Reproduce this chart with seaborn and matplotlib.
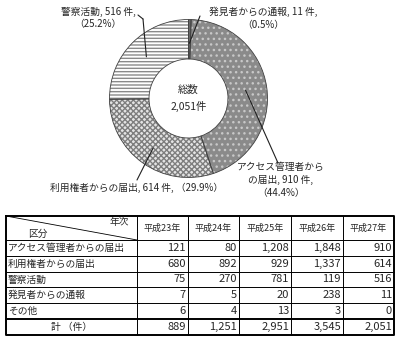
import matplotlib
matplotlib.use("Agg")
import matplotlib.pyplot as plt
import seaborn as sns
import numpy as np

sns.set_theme(style="white")
plt.rcParams['font.family'] = ['Noto Sans CJK JP', 'DejaVu Sans']
plt.rcParams['hatch.linewidth'] = 1.0

# ---- data ----
pie_labels = ["発見者からの通報", "アクセス管理者からの届出", "利用権者からの届出", "警察活動"]
pie_values = [11, 910, 614, 516]
pie_pcts = ["0.5%", "44.4%", "29.9%", "25.2%"]
total_label = "総数\n2,051件"

years = ["平成23年", "平成24年", "平成25年", "平成26年", "平成27年"]
categories = ["アクセス管理者からの届出", "利用権者からの届出", "警察活動", "発見者からの通報", "その他"]
access = [121, 80, 1208, 1848, 910]
holder = [680, 892, 929, 1337, 614]
police = [75, 270, 781, 119, 516]
finder = [7, 5, 20, 238, 11]
other = [6, 4, 13, 3, 0]
totals = [889, 1251, 2951, 3545, 2051]
total_row_label = "計 （件）"

W, H = 400, 340
fig = plt.figure(figsize=(4, 3.4), dpi=100)
fig.patch.set_facecolor("white")

# ---- donut ----
cx, cy, R = 188.5, 98.5, 80
axp = fig.add_axes([(cx - R) / W, (H - cy - R) / H, 2 * R / W, 2 * R / H])
faces = ["#666666", "#8a8a8a", "#e4e4e4", "white"]
hatch_cols = ["#666666", "#c8c8c8", "#7e7e7e", "#8a8a8a"]
hatches = [None, "...", "xxxxxx", "-----"]
radius = 79 / 80
wedges, _ = axp.pie(pie_values, startangle=90, counterclock=False, radius=radius,
                    colors=faces, wedgeprops=dict(width=radius * 0.5, linewidth=0))
for w, h, hc in zip(wedges, hatches, hatch_cols):
    if h:
        w.set_hatch(h)
    w.set_edgecolor(hc)
axp.pie(pie_values, startangle=90, counterclock=False, radius=radius,
        colors=["none"] * 4,
        wedgeprops=dict(width=radius * 0.5, linewidth=0.6, edgecolor="#404040", fill=False))
axp.set_xlim(-1, 1)
axp.set_ylim(-1, 1)
axp.set_aspect("equal")
axp.axis("off")
axp.text(0, 0, total_label, ha="center", va="center", fontsize=7.5, linespacing=1.7)

label_pos = [(263, 18), (281, 180), (137, 188), (98, 18)]
line_start = [(200, 16), (278, 163), (137, 180), (143, 19)]
line_r = [0.70, 0.73, 0.77, 0.75]
texts = [
    f"{pie_labels[0]}, {pie_values[0]} 件,\n（{pie_pcts[0]}）",
    f"アクセス管理者から\nの届出, {pie_values[1]} 件,\n（{pie_pcts[1]}）",
    f"{pie_labels[2]}, {pie_values[2]} 件, （{pie_pcts[2]}）",
    f"{pie_labels[3]}, {pie_values[3]} 件,\n（{pie_pcts[3]}）",
]
for w, t, lp, ls, r in zip(wedges, texts, label_pos, line_start, line_r):
    ang = np.deg2rad((w.theta1 + w.theta2) / 2)
    pt = (r * radius * np.cos(ang), r * radius * np.sin(ang))
    axp.annotate("", xy=pt, xytext=(ls[0], H - ls[1]), textcoords="figure pixels",
                 arrowprops=dict(arrowstyle="-", lw=0.8, color="#202020",
                                 shrinkA=0, shrinkB=0))
    fig.text(lp[0] / W, 1 - lp[1] / H, t, ha="center", va="center", fontsize=7,
             linespacing=1.35)
# short elbow of the police leader line
fig.add_artist(plt.Line2D([138 / W, 143 / W], [1 - 15 / H, 1 - 19 / H],
                          color="#202020", lw=0.8))

# ---- table ----
axt = fig.add_axes([0, 0, 1, 1])
axt.set_xlim(0, W)
axt.set_ylim(H, 0)
axt.axis("off")
xs = [6, 137, 188, 239, 291, 343, 394]
ys = [216, 240, 256, 272, 287, 303, 319, 335]
for y in ys[1:-1]:
    axt.plot([xs[0], xs[-1]], [y, y], color="black", lw=1.4 if y == ys[-2] else 0.7)
for x in xs[1:-1]:
    axt.plot([x, x], [ys[0], ys[-1]], color="black", lw=0.7)
axt.plot([xs[0], xs[-1], xs[-1], xs[0], xs[0]], [ys[0], ys[0], ys[-1], ys[-1], ys[0]],
         color="black", lw=1.4)
axt.plot([xs[0], xs[1]], [ys[0], ys[1]], color="black", lw=0.6)
axt.text(xs[1] - 8, ys[0] + 6, "年次", ha="right", va="center", fontsize=7)
axt.text(xs[0] + 22, ys[1] - 6, "区分", ha="left", va="center", fontsize=7)
for j, yr in enumerate(years):
    axt.text((xs[j + 1] + xs[j + 2]) / 2, (ys[0] + ys[1]) / 2, yr,
             ha="center", va="center", fontsize=6.5)
rows = [access, holder, police, finder, other]
for i, (cat, vals) in enumerate(zip(categories, rows)):
    yc = (ys[i + 1] + ys[i + 2]) / 2
    axt.text(xs[0] + 2, yc, cat, ha="left", va="center", fontsize=7)
    for j, v in enumerate(vals):
        axt.text(xs[j + 2] - 2, yc, f"{v:,}", ha="right", va="center", fontsize=8)
yc = (ys[-2] + ys[-1]) / 2
axt.text((xs[0] + xs[1]) / 2, yc, total_row_label, ha="center", va="center", fontsize=7)
for j, v in enumerate(totals):
    axt.text(xs[j + 2] - 2, yc, f"{v:,}", ha="right", va="center", fontsize=8)

fig.savefig("out.png", dpi=100)
